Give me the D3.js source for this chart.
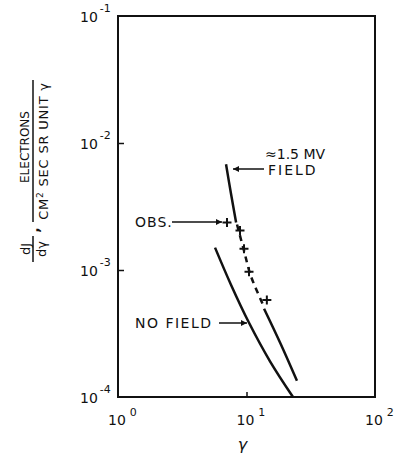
<!DOCTYPE html>
<html>
<head>
<meta charset="utf-8">
<script src="https://cdn.jsdelivr.net/npm/d3@7"></script>
<style>
  body { margin: 0; background: #fff; }
  svg text { font-family: "DejaVu Sans", "Liberation Sans", sans-serif; fill: #111; }
</style>
</head>
<body>
<svg id="chart" width="403" height="455"></svg>
<script>
// data (gamma, dJ/dgamma)
var noField = [[5.69, 1.5e-3], [7.57, 7.66e-4], [10.46, 3.84e-4], [15.2, 1.92e-4], [23.0, 1.0e-4]];
var fieldUpper = [[6.93, 6.8e-3], [7.57, 4.0e-3], [8.3, 2.37e-3]];
var fieldDashed = [[8.44, 2.28e-3], [9.56, 1.42e-3], [10.8, 9.0e-4], [13.6, 5.2e-4]];
var fieldLower = [[13.7, 4.95e-4], [18.5, 2.6e-4], [24.7, 1.34e-4]];
var observed = [[7.05, 2.37e-3], [8.9, 2.05e-3], [9.56, 1.47e-3], [10.46, 9.7e-4], [14.4, 5.8e-4]];

var xTicks = [1, 10, 100];
var xTickExp = ["0", "1", "2"];
var yTicks = [1e-1, 1e-2, 1e-3, 1e-4];
var yTickExp = ["-1", "-2", "-3", "-4"];

var svg = d3.select("#chart"),
  width = +svg.attr("width"),
  height = +svg.attr("height");
var margin = {top: 16, right: 28, bottom: 58, left: 118};

var x = d3.scaleLog().domain([1, 100]).range([margin.left, width - margin.right]);
var y = d3.scaleLog().domain([1e-4, 1e-1]).range([height - margin.bottom, margin.top]);

// frame
svg.append("rect")
  .attr("x", x(1)).attr("y", y(1e-1))
  .attr("width", x(100) - x(1)).attr("height", y(1e-4) - y(1e-1))
  .attr("fill", "none").attr("stroke", "#111").attr("stroke-width", 2);

// inner ticks
svg.append("g")
  .attr("transform", "translate(0," + y(1e-4) + ")")
  .call(d3.axisBottom(x).tickValues([10]).tickSizeInner(-5).tickSizeOuter(0).tickFormat(""))
  .call(function(g) { g.select(".domain").remove(); g.selectAll("line").attr("stroke", "#111").attr("stroke-width", 1.5); });

svg.append("g")
  .attr("transform", "translate(" + x(1) + ",0)")
  .call(d3.axisLeft(y).tickValues([1e-2, 1e-3]).tickSizeInner(-6).tickSizeOuter(0).tickFormat(""))
  .call(function(g) { g.select(".domain").remove(); g.selectAll("line").attr("stroke", "#111").attr("stroke-width", 1.5); });

// tick labels with superscripts
xTicks.forEach(function(v, i) {
  var t = svg.append("text")
    .attr("x", x(v) - 10).attr("y", y(1e-4) + 28)
    .style("font-size", "14px");
  t.append("tspan").text("10");
  t.append("tspan").attr("dx", 4).attr("dy", -9).style("font-size", "11px").text(xTickExp[i]);
});

yTicks.forEach(function(v, i) {
  var t = svg.append("text")
    .attr("x", 80).attr("y", y(v) + 6)
    .style("font-size", "14px");
  t.append("tspan").text("10");
  t.append("tspan").attr("dx", 2).attr("dy", -10).style("font-size", "11px").text(yTickExp[i]);
});

svg.append("text")
  .attr("x", x(10) - 4).attr("y", 450)
  .attr("text-anchor", "middle").style("font-size", "16px").style("font-style", "italic")
  .text("γ");

// y axis title (rotated)
var yt = svg.append("g");
yt.append("text")
  .attr("transform", "translate(29,147) rotate(-90)")
  .attr("text-anchor", "middle").style("font-size", "12px")
  .text("ELECTRONS");
yt.append("line")
  .attr("x1", 33).attr("x2", 33).attr("y1", 80).attr("y2", 222)
  .attr("stroke", "#111").attr("stroke-width", 1.5);
var cm = yt.append("text")
  .attr("transform", "translate(48,151) rotate(-90)")
  .attr("text-anchor", "middle").style("font-size", "13px").style("letter-spacing", "0.8px");
cm.append("tspan").text("CM");
cm.append("tspan").attr("dy", -5).style("font-size", "9px").text("2");
cm.append("tspan").attr("dy", 5).text(" SEC SR UNIT γ");
yt.append("text")
  .attr("transform", "translate(39,230) rotate(-90)")
  .attr("text-anchor", "middle").style("font-size", "14px").style("font-weight", "bold")
  .text(",");
yt.append("text")
  .attr("transform", "translate(30,249) rotate(-90)")
  .attr("text-anchor", "middle").style("font-size", "13px")
  .text("dJ");
yt.append("line")
  .attr("x1", 33).attr("x2", 33).attr("y1", 236).attr("y2", 262)
  .attr("stroke", "#111").attr("stroke-width", 1.5);
yt.append("text")
  .attr("transform", "translate(46,249) rotate(-90)")
  .attr("text-anchor", "middle").style("font-size", "13px")
  .text("dγ");

// curves
var line = d3.line()
  .x(function(d) { return x(d[0]); })
  .y(function(d) { return y(d[1]); })
  .curve(d3.curveCatmullRom);

function curve(data, dash) {
  svg.append("path")
    .datum(data)
    .attr("d", line)
    .attr("fill", "none")
    .attr("stroke", "#111")
    .attr("stroke-width", 2.5)
    .attr("stroke-dasharray", dash || null);
}
curve(noField);
curve(fieldUpper);
curve(fieldDashed, "6,5");
curve(fieldLower);

// observed points (+)
svg.append("g").selectAll("path")
  .data(observed)
  .enter().append("path")
  .attr("d", function(d) {
    var px = x(d[0]), py = y(d[1]), s = 4.5;
    return "M" + (px - s) + "," + py + "H" + (px + s) + "M" + px + "," + (py - s) + "V" + (py + s);
  })
  .attr("stroke", "#111").attr("stroke-width", 2);

// annotations with arrows
svg.append("defs").append("marker")
  .attr("id", "arrow").attr("viewBox", "0 0 10 10")
  .attr("refX", 10).attr("refY", 5)
  .attr("markerWidth", 10).attr("markerHeight", 6)
  .attr("markerUnits", "userSpaceOnUse")
  .attr("orient", "auto")
  .append("path").attr("d", "M0,0L10,5L0,10Z").attr("fill", "#111");

function arrow(x1, y1, x2, y2) {
  svg.append("line")
    .attr("x1", x1).attr("y1", y1).attr("x2", x2).attr("y2", y2)
    .attr("stroke", "#111").attr("stroke-width", 1.5)
    .attr("marker-end", "url(#arrow)");
}

function label(tx, ty, s, sp) {
  svg.append("text").attr("x", tx).attr("y", ty)
    .style("font-size", "14px").style("letter-spacing", (sp || 0) + "px")
    .text(s);
}

label(265, 159, "≈1.5 MV");
label(268, 175, "FIELD", 2);
arrow(264, 169, 233, 169);

label(135, 227, "OBS.", 1);
arrow(172, 222, 222, 222);

label(135, 328, "NO FIELD", 1.5);
arrow(219, 323, 247, 323);
</script>
</body>
</html>
